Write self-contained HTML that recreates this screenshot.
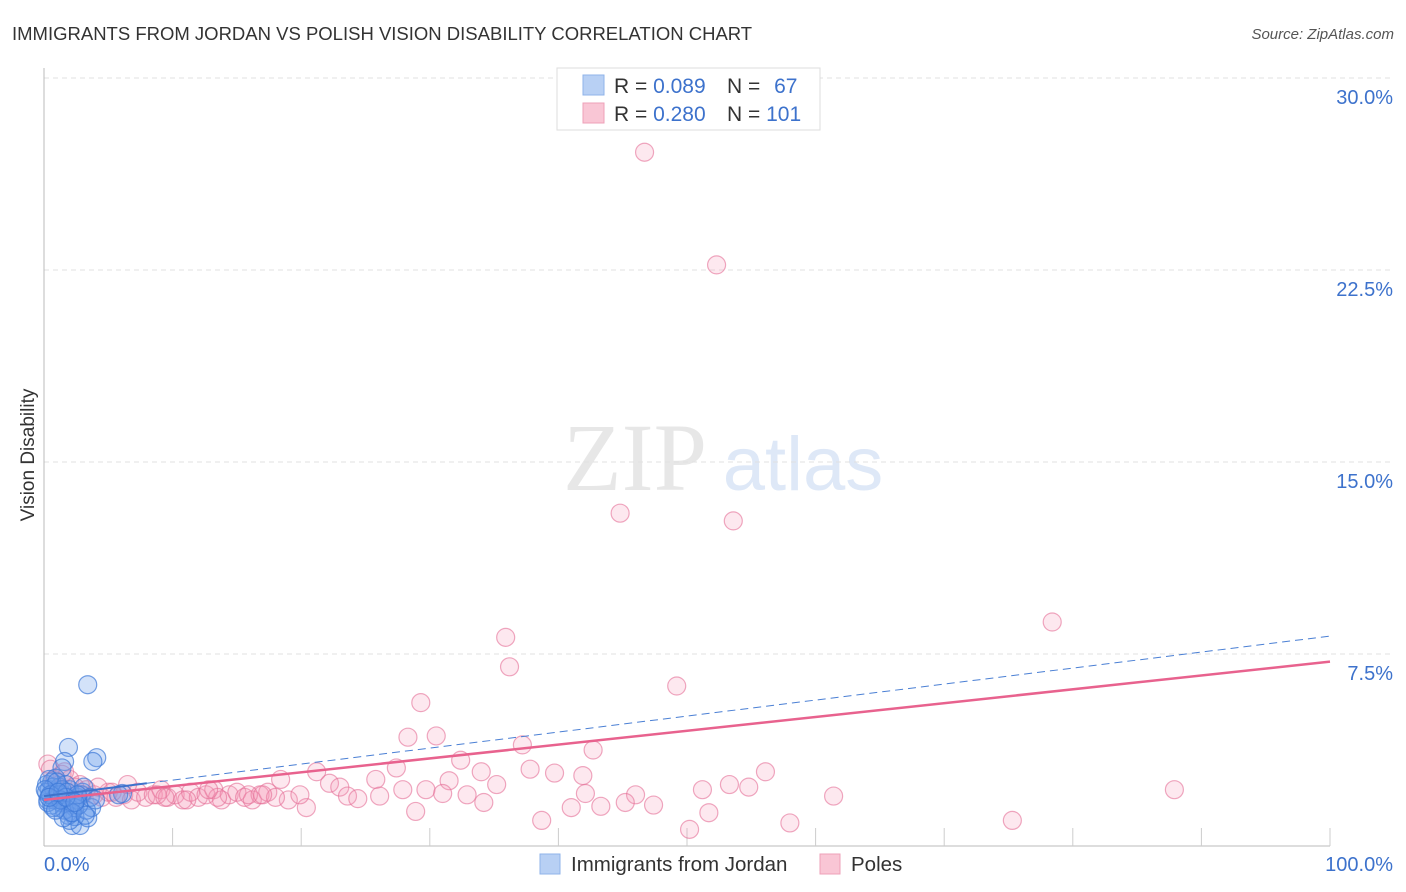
<!DOCTYPE html>
<html><head><meta charset="utf-8"><style>
body{margin:0;background:#fff;font-family:"Liberation Sans",sans-serif;}
svg{display:block}
</style></head><body>
<svg id="c" width="1406" height="892" xmlns="http://www.w3.org/2000/svg">
<text x="12" y="40" font-size="18.5" fill="#333">IMMIGRANTS FROM JORDAN VS POLISH VISION DISABILITY CORRELATION CHART</text>
<text x="1394" y="39" font-size="15" fill="#555" font-style="italic" text-anchor="end">Source: ZipAtlas.com</text>
<text x="0" y="0" transform="translate(34,455) rotate(-90)" font-size="19" fill="#333" text-anchor="middle">Vision Disability</text>
<g opacity="0.45">
<text x="635" y="490" font-family="Liberation Serif,serif" font-size="96" fill="#ccc" text-anchor="middle">ZIP</text>
<text x="803" y="490" font-size="76" fill="#b8cdee" text-anchor="middle">atlas</text>
</g>
<g id="grid"></g><g id="pts"></g><g id="lines"></g>
<g>
<rect x="557" y="68" width="263" height="62" fill="#fff" stroke="#ddd"/>
<rect x="583" y="75" width="21" height="20" fill="#b8d0f4" stroke="#8fb3ea"/>
<rect x="583" y="103" width="21" height="20" fill="#f9c6d5" stroke="#eea0b8"/>
<text x="614" y="93" font-size="21" fill="#333">R = <tspan fill="#3d72cc">0.089</tspan></text>
<text x="727" y="93" font-size="21" fill="#333">N = <tspan fill="#3d72cc" dx="8">67</tspan></text>
<text x="614" y="121" font-size="21" fill="#333">R = <tspan fill="#3d72cc">0.280</tspan></text>
<text x="727" y="121" font-size="21" fill="#333">N = <tspan fill="#3d72cc">101</tspan></text>
</g>
<g>
<rect x="540" y="854" width="20" height="20" fill="#b8d0f4" stroke="#8fb3ea"/>
<text x="571" y="871" font-size="20.5" fill="#333">Immigrants from Jordan</text>
<rect x="820" y="854" width="20" height="20" fill="#f9c6d5" stroke="#eea0b8"/>
<text x="851" y="871" font-size="20.5" fill="#333">Poles</text>
</g>
</svg>
<script>
const yTicks=[7.5,15,22.5,30];
const yTickLabels=["7.5%","15.0%","22.5%","30.0%"];
const xTicks=[0,10,20,30,40,50,60,70,80,90,100];
const blueX=[3.4,1.9,4.1,3.8,1.6,1.4,0.9,2.2,2.8,3.4,2.4,6.1,3.7,0.2,0.4,0.6,0.8,1.0,1.2,1.5,1.8,2.0,2.3,2.6,3.0,0.3,0.5,0.7,1.1,1.3,1.7,2.1,2.5,2.9,3.3,0.2,0.6,0.9,1.4,1.9,2.4,0.4,0.8,1.2,1.6,2.0,3.1,0.3,1.0,1.5,2.7,0.5,1.8,2.2,3.6,0.1,0.7,1.3,2.6,4.0,0.9,1.7,3.2,0.4,1.1,2.4,5.8];
const blueY=[6.3,3.85,3.45,3.3,3.3,3.05,2.65,0.8,0.8,1.1,1.15,2.05,1.5,2.4,2.2,2.5,2.1,1.9,2.3,2.0,1.7,2.2,1.6,1.9,2.1,1.8,2.0,2.3,1.5,1.7,2.4,1.3,1.8,2.0,1.4,2.1,1.6,1.9,2.2,1.2,1.5,2.6,1.8,2.0,1.4,1.0,2.3,1.7,2.5,1.1,1.6,2.0,2.1,1.3,1.9,2.2,1.5,1.8,2.0,1.8,1.4,1.9,1.2,1.9,2.1,1.7,2.0];
const pinkX=[46.7,52.3,44.8,53.6,78.4,35.9,36.2,49.2,29.3,28.3,30.5,37.2,42.7,32.4,27.4,21.2,37.8,34.0,56.1,39.7,41.9,18.4,25.8,31.5,35.2,22.2,53.3,54.8,51.2,87.9,23.0,27.9,29.7,42.1,46.0,61.4,32.9,31.0,45.2,47.4,43.3,41.0,34.2,28.9,20.4,51.7,38.7,58.0,75.3,50.2,23.6,26.1,24.4,19.0,19.9,0.3,1.4,2.0,2.8,3.3,3.9,4.5,5.0,5.6,6.2,6.8,7.3,7.9,8.5,9.1,9.6,10.2,10.8,11.4,12.0,12.6,13.2,13.8,14.4,15.0,15.6,16.2,16.8,17.4,18.0,4.2,6.5,8.8,11.1,13.5,15.9,0.8,1.6,2.4,3.0,0.5,1.1,5.3,9.4,12.8,17.0];
const pinkY=[27.1,22.7,13.0,12.7,8.75,8.15,7.0,6.25,5.6,4.25,4.3,3.95,3.75,3.35,3.05,2.9,3.0,2.9,2.9,2.85,2.75,2.6,2.6,2.55,2.4,2.45,2.4,2.3,2.2,2.2,2.3,2.2,2.2,2.05,2.0,1.95,2.0,2.05,1.7,1.6,1.55,1.5,1.7,1.35,1.5,1.3,1.0,0.9,1.0,0.65,1.95,1.95,1.85,1.8,2.0,3.2,2.8,2.6,2.4,2.2,2.0,1.9,2.1,1.9,2.0,1.8,2.1,1.9,2.0,2.2,1.9,2.0,1.8,2.1,1.9,2.0,2.2,1.8,2.0,2.1,1.9,1.8,2.0,2.1,1.9,2.3,2.4,2.0,1.8,1.9,2.0,2.6,2.9,2.3,2.0,3.0,2.2,2.1,1.9,2.2,2.0];
const blueTrend=[1.95,8.2];
const pinkTrend=[1.8,7.2];
const NS="http://www.w3.org/2000/svg";
const X=v=>44+v*12.86, Y=v=>846-v*25.6;
function mk(t,a,p){const e=document.createElementNS(NS,t);for(const k in a)e.setAttribute(k,a[k]);p.appendChild(e);return e;}
const g=document.getElementById('grid');
yTicks.forEach((t,i)=>{
 const l=mk('line',{x1:44,x2:1393,y1:Y(t),y2:Y(t),stroke:'#e0e0e0','stroke-dasharray':'5,4'},g);
 
 
 const tx=mk('text',{x:1393,y:Y(t)+26,'font-size':20,fill:'#3d72cc','text-anchor':'end'},g);
 tx.textContent=yTickLabels[i];
 
 
});
mk('line',{x1:44,x2:44,y1:68,y2:846,stroke:'#bbb'},g);
mk('line',{x1:44,x2:1330,y1:846,y2:846,stroke:'#bbb'},g);
xTicks.forEach(t=>{if(t>0){const l=mk('line',{x1:X(t),x2:X(t),y1:828,y2:846,stroke:'#ccc'},g);
 
 }});
const a0=mk('text',{x:44,y:871,'font-size':20,fill:'#3d72cc'},g);a0.textContent='0.0%';


const a1=mk('text',{x:1393,y:871,'font-size':20,fill:'#3d72cc','text-anchor':'end'},g);a1.textContent='100.0%';


const p=document.getElementById('pts');
pinkX.forEach((x,i)=>{const c=mk('circle',{cx:X(x),cy:Y(pinkY[i]),r:9,fill:'rgba(244,150,180,0.22)',stroke:'rgba(228,110,150,0.6)','stroke-width':1.2},p);
 
 });
blueX.forEach((x,i)=>{const c=mk('circle',{cx:X(x),cy:Y(blueY[i]),r:9,fill:'rgba(110,160,235,0.3)',stroke:'rgba(60,120,215,0.7)','stroke-width':1.2},p);
 
 });
const L=document.getElementById('lines');
const by=v=>blueTrend[0]+(blueTrend[1]-blueTrend[0])*v/100;
const b1=mk('line',{x1:X(0),y1:Y(by(0)),x2:X(8),y2:Y(by(8)),stroke:'#3d72cc','stroke-width':2},L);


const b2=mk('line',{x1:X(8),y1:Y(by(8)),x2:X(100),y2:Y(by(100)),stroke:'#4a7fd4','stroke-width':1,'stroke-dasharray':'8,5'},L);


const pl=mk('line',{x1:X(0),y1:Y(pinkTrend[0]),x2:X(100),y2:Y(pinkTrend[1]),stroke:'#e8628e','stroke-width':2.5},L);


</script>
</body></html>
